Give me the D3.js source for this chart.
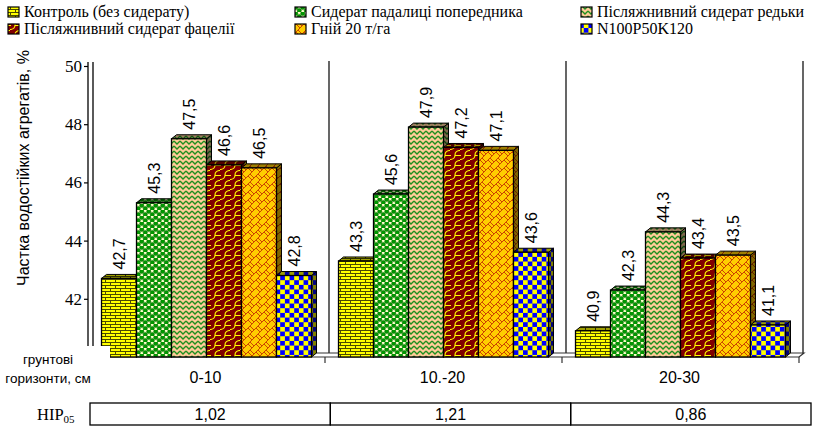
<!DOCTYPE html>
<html>
<head>
<meta charset="utf-8">
<script src="https://cdn.jsdelivr.net/npm/d3@7"></script>
<style>
  html, body { margin: 0; padding: 0; background: #fff; }
  svg { display: block; }
  .serif { font-family: "Liberation Serif", "Times New Roman", "DejaVu Serif", serif; }
  .sans { font-family: "Liberation Sans", Arial, sans-serif; }
</style>
</head>
<body>
<svg id="chart" width="840" height="428"></svg>
<script>
// Soil depth horizons
const categories = ["0-10", "10.-20", "20-30"];

// Treatments (series names, in legend order)
const seriesNames = [
  "Контроль (без сидерату)",
  "Сидерат падалиці попередника",
  "Післяжнивний сидерат редьки",
  "Післяжнивний сидерат фацелії",
  "Гній 20 т/га",
  "N100P50K120"
];

// Share of water-stable aggregates, % (one array per treatment, by horizon)
const control   = [42.7, 43.3, 40.9];
const volunteer = [45.3, 45.6, 42.3];
const radish    = [47.5, 47.9, 44.3];
const phacelia  = [46.6, 47.2, 43.4];
const manure    = [46.5, 47.1, 43.5];
const npk       = [42.8, 43.6, 41.1];

// LSD 0.05 for each horizon
const hip05 = ["1,02", "1,21", "0,86"];

// Y axis
const yTicks = [42, 44, 46, 48, 50];
const yDomain = [40, 50];

const seriesValues = [control, volunteer, radish, phacelia, manure, npk];
const patternIds = ["pBrick", "pSphere", "pZig", "pShingle", "pDiagBrick", "pCheck"];

const svg = d3.select("#chart");
const defs = svg.append("defs");

// ---------- fill patterns ----------
function pattern(id, w, h) {
  return defs.append("pattern").attr("id", id)
    .attr("patternUnits", "userSpaceOnUse")
    .attr("width", w).attr("height", h);
}
// yellow brick
{
  const p = pattern("pBrick", 10, 6);
  p.append("rect").attr("width", 10).attr("height", 6).attr("fill", "#ffff00");
  p.append("path").attr("d", "M0,0.5H10M0,3.5H10M0.5,0.5V3.5M5.5,3.5V6.5")
    .attr("stroke", "#4a4a00").attr("stroke-width", 1).attr("fill", "none");
}
// green spheres on cream
{
  const p = pattern("pSphere", 7, 6);
  p.append("rect").attr("width", 7).attr("height", 6).attr("fill", "#ffffcc");
  [[1.75, 1.5], [5.25, 4.5], [8.75, 1.5], [-1.75, 4.5]].forEach(([cx, cy]) => {
    p.append("circle").attr("cx", cx).attr("cy", cy).attr("r", 2.1)
      .attr("fill", "#009900").attr("stroke", "#006600").attr("stroke-width", 0.5);
  });
}
// green zigzag on peach
{
  const p = pattern("pZig", 6, 5);
  p.append("rect").attr("width", 6).attr("height", 5).attr("fill", "#ffcc99");
  p.append("path").attr("d", "M0,1L3,4L6,1").attr("stroke", "#1f8f1f")
    .attr("stroke-width", 1.3).attr("fill", "none");
}
// yellow shingle on dark red
{
  const p = pattern("pShingle", 10, 10);
  p.append("rect").attr("width", 10).attr("height", 10).attr("fill", "#800000");
  p.append("path").attr("d", "M0,9.5C4,9.5 5,7 5,5C5,2 7,0.5 10,0.5M5,5.5H10M0,5.5H1")
    .attr("stroke", "#ffff00").attr("stroke-width", 1.1).attr("fill", "none");
}
// brown diagonal brick on gold
{
  const p = pattern("pDiagBrick", 8, 8);
  p.append("rect").attr("width", 8).attr("height", 8).attr("fill", "#ffcc00");
  p.append("path").attr("d", "M0,8L8,0M-4,4L4,-4M4,12L12,4M0,0L4,4M2,6L4,8M4,0L6,2")
    .attr("stroke", "#cc4400").attr("stroke-width", 1).attr("fill", "none");
}
// blue / yellow checkerboard
{
  const s = 4.67;
  const p = pattern("pCheck", 2 * s, 2 * s);
  p.append("rect").attr("width", 2 * s).attr("height", 2 * s).attr("fill", "#0000ff");
  p.append("rect").attr("width", s).attr("height", s).attr("fill", "#ffff00");
  p.append("rect").attr("x", s).attr("y", s).attr("width", s).attr("height", s).attr("fill", "#ffff00");
}

// ---------- scales ----------
const x0 = d3.scaleBand().domain(categories).range([88, 799]).padding(0);
const x1 = d3.scaleBand().domain(d3.range(seriesNames.length))
  .range([0, x0.bandwidth()]).paddingInner(0).paddingOuter(0.386);
const y = d3.scaleLinear().domain(yDomain).range([357, 66]);
const DX = 5, DY = 4; // 3D depth offset

// ---------- back walls / separators ----------
const plot = svg.append("g");
const sepX = categories.map(c => x0(c) + x0.bandwidth() + 4);
plot.selectAll("line.sep").data(sepX).join("line")
  .attr("x1", d => d).attr("x2", d => d)
  .attr("y1", y(50) - 5).attr("y2", y(40) - DY)
  .attr("stroke", "#000").attr("stroke-width", 1.2);

// floor
const fx0 = x0.range()[0], fx1 = x0.range()[1];
plot.append("path")
  .attr("d", `M${fx0},${y(40)}L${fx1},${y(40)}L${fx1 + DX},${y(40) - DY}L${fx0 + DX},${y(40) - DY}Z`)
  .attr("fill", "#fff").attr("stroke", "#333").attr("stroke-width", 1.2);
// category boundary ticks on the floor edge
plot.selectAll("line.ctick").data(categories.map(c => x0(c) + x0.bandwidth())).join("line")
  .attr("x1", d => d).attr("x2", d => d)
  .attr("y1", y(40)).attr("y2", y(40) + 6)
  .attr("stroke", "#333").attr("stroke-width", 1.2);

// ---------- bars ----------
const bars = plot.append("g");
categories.forEach((cat, ci) => {
  seriesValues.forEach((vals, si) => {
    const v = vals[ci];
    const bx = x0(cat) + x1(si);
    const bw = x1.bandwidth();
    const top = y(v), base = y(yDomain[0]);
    const fill = `url(#${patternIds[si]})`;
    const g = bars.append("g");
    const side = `M${bx + bw},${top}L${bx + bw + DX},${top - DY}L${bx + bw + DX},${base - DY}L${bx + bw},${base}Z`;
    const topFace = `M${bx},${top}L${bx + DX},${top - DY}L${bx + bw + DX},${top - DY}L${bx + bw},${top}Z`;
    [side, topFace].forEach((d, k) => {
      g.append("path").attr("d", d).attr("fill", fill);
      g.append("path").attr("d", d).attr("fill", k === 0 ? "rgba(0,0,0,0.5)" : "rgba(0,0,0,0.38)")
        .attr("stroke", "#000").attr("stroke-width", 1).attr("stroke-linejoin", "round");
    });
    g.append("rect").attr("x", bx).attr("y", top).attr("width", bw).attr("height", base - top)
      .attr("fill", fill).attr("stroke", "#000").attr("stroke-width", 1.3);
    // value label
    g.append("text").attr("class", "sans")
      .attr("transform", `translate(${bx + bw / 2},${top - DY - 5}) rotate(-90)`)
      .attr("dy", "0.36em")
      .attr("font-size", 16)
      .attr("fill", "#000")
      .text(d3.format(".1f")(v).replace(".", ","));
  });
});

// ---------- y axis ----------
const yAxis = svg.append("g").attr("transform", "translate(88,0)")
  .call(d3.axisLeft(y).tickValues(yTicks).tickSize(4).tickPadding(2).tickFormat(d3.format("d")));
yAxis.attr("font-family", null);
yAxis.select(".domain").remove();
yAxis.selectAll(".tick line").attr("stroke", "#000").attr("stroke-width", 1.2);
yAxis.selectAll(".tick text").attr("class", "serif").attr("font-size", 17).attr("fill", "#000");
[88, 93].forEach(xx => {
  svg.append("line").attr("x1", xx).attr("x2", xx)
    .attr("y1", y(50) - 4).attr("y2", y(40))
    .attr("stroke", "#000").attr("stroke-width", 1.3);
});

svg.append("text").attr("class", "sans")
  .attr("transform", "translate(23,168) rotate(-90)")
  .attr("text-anchor", "middle").attr("dy", "0.35em")
  .attr("font-size", 16).attr("fill", "#000")
  .text("Частка водостійких агрегатів, %");

// ---------- x axis labels ----------
svg.append("rect").attr("x", 0).attr("y", 346).attr("width", 110).attr("height", 42).attr("fill", "#fff");
const xTitle = svg.append("text").attr("class", "sans").attr("font-size", 13.5)
  .attr("text-anchor", "middle").attr("fill", "#000");
xTitle.append("tspan").attr("x", 48).attr("y", 364).text("грунтові");
xTitle.append("tspan").attr("x", 48).attr("y", 383).text("горизонти, см");

svg.selectAll("text.cat").data(categories).join("text")
  .attr("class", "cat sans")
  .attr("x", d => x0(d) + x0.bandwidth() / 2 - 1).attr("y", 383)
  .attr("text-anchor", "middle")
  .attr("font-size", 16).attr("fill", "#000")
  .text(d => d);

// ---------- LSD table ----------
const xt = d3.scaleBand().domain(categories).range([90, 811]);
svg.selectAll("rect.cell").data(categories).join("rect")
  .attr("class", "cell")
  .attr("x", d => xt(d)).attr("y", 403).attr("width", xt.bandwidth()).attr("height", 22)
  .attr("fill", "none").attr("stroke", "#000").attr("stroke-width", 1.3);
svg.selectAll("text.hip").data(categories).join("text")
  .attr("class", "hip sans")
  .attr("x", d => xt(d) + xt.bandwidth() / 2).attr("y", 420)
  .attr("text-anchor", "middle")
  .attr("font-size", 16).attr("fill", "#000")
  .text((d, i) => hip05[i]);
const hipLabel = svg.append("text").attr("class", "serif").attr("x", 37).attr("y", 420)
  .attr("font-size", 16.5).attr("fill", "#000");
hipLabel.append("tspan").text("НІР");
hipLabel.append("tspan").attr("font-size", 11).attr("dy", 3).text("05");

// ---------- legend ----------
const legCols = [8, 295, 581];
const legend = svg.append("g");
seriesNames.forEach((name, i) => {
  const col = i % 3, row = Math.floor(i / 3);
  const lx = legCols[col], base = 17 + row * 17;
  legend.append("rect").attr("x", lx).attr("y", base - 10).attr("width", 11).attr("height", 10)
    .attr("fill", `url(#${patternIds[i]})`).attr("stroke", "#000").attr("stroke-width", 1.2);
  legend.append("text").attr("class", "serif").attr("x", lx + 16).attr("y", base)
    .attr("font-size", 16).attr("fill", "#000")
    .text(name);
});
</script>
</body>
</html>
